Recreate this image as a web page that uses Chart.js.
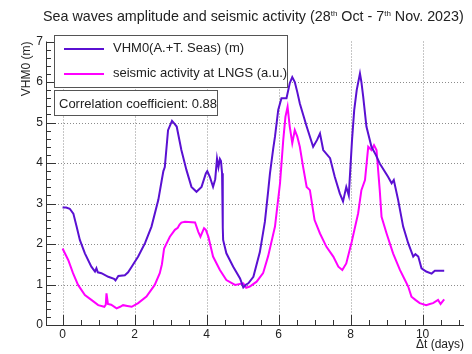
<!DOCTYPE html>
<html>
<head>
<meta charset="utf-8">
<script src="https://cdn.jsdelivr.net/npm/chart.js@4.4.1/dist/chart.umd.min.js"></script>
<style>
  html, body { margin: 0; padding: 0; background: #fff; }
  #wrap { position: relative; width: 472px; height: 354px; font-family: "Liberation Sans", Arial, sans-serif; color: #222; }
  #wrap canvas { position: absolute; left: 0; top: 0; }
  .title { position: absolute; left: 43px; top: 8px; font-size: 14.3px; white-space: nowrap; }
  .title sup { font-size: 8px; vertical-align: 5px; line-height: 0; }
  .box { position: absolute; background: #fff; border: 1px solid #555; box-sizing: border-box; }
  .row { position: absolute; left: 58px; font-size: 13px; white-space: nowrap; }
  .swatch { position: absolute; width: 40px; height: 2px; }
</style>
</head>
<body>
<div id="wrap">
  <canvas id="waveChart" width="472" height="354"></canvas>
  <div class="title">Sea waves amplitude and seismic activity (28<sup>th</sup> Oct - 7<sup>th</sup> Nov. 2023)</div>
  <div class="box" style="left:54px; top:35px; width:234px; height:53px;">
    <div class="swatch" style="left:9px; top:12px; background:#5a10d2;"></div>
    <div class="row" style="top:4px;">VHM0(A.+T. Seas) (m)</div>
    <div class="swatch" style="left:9px; top:37px; background:#ff00ff;"></div>
    <div class="row" style="top:29px;">seismic activity at LNGS (a.u.)</div>
  </div>
  <div class="box" style="left:54px; top:90px; width:164px; height:26px;">
    <div class="row" style="left:4px; top:5px;">Correlation coefficient: 0.88</div>
  </div>
</div>
<script>
document.addEventListener('DOMContentLoaded', () => {

    // VHM0 wave height (m) vs days
    const waveDays = [0.0, 0.1, 0.2, 0.3, 0.39, 0.48, 0.62, 0.8, 0.9, 0.94, 0.98, 1.08, 1.27, 1.43, 1.47, 1.55, 1.73, 1.82, 1.92,
        2.1, 2.29, 2.47, 2.66, 2.75, 2.8, 2.84, 2.93, 3.04, 3.1, 3.17, 3.3, 3.44, 3.58, 3.72, 3.86, 3.98, 4.02, 4.09, 4.18,
        4.24, 4.29, 4.33, 4.37, 4.4, 4.43, 4.45, 4.46, 4.55, 4.74, 4.93, 5.02, 5.1, 5.16, 5.3, 5.48, 5.62, 5.71, 5.76, 5.85,
        5.9, 5.99, 6.08, 6.22, 6.31, 6.38, 6.45, 6.52, 6.59, 6.78, 6.96, 7.07, 7.15, 7.24, 7.43, 7.56, 7.7, 7.79, 7.88, 7.95,
        8.04, 8.1, 8.17, 8.26, 8.3, 8.35, 8.44, 8.58, 8.7, 8.81, 9.04, 9.14, 9.2, 9.32, 9.46, 9.6, 9.74, 9.8, 9.88, 9.97,
        10.1, 10.25, 10.34, 10.6];
    const waveHeight = [2.9, 2.9, 2.87, 2.75, 2.43, 2.1, 1.77, 1.44, 1.32, 1.4, 1.3, 1.28, 1.19, 1.14, 1.1, 1.21, 1.23, 1.3, 1.44,
        1.69, 2.02, 2.43, 3.09, 3.55, 3.8, 3.9, 4.81, 5.04, 4.98, 4.9, 4.32, 3.83, 3.41, 3.29, 3.41, 3.74, 3.8, 3.66, 3.41,
        3.6, 4.11, 3.9, 4.1, 4.05, 3.75, 2.4, 2.1, 1.77, 1.44, 1.15, 0.93, 1.0, 1.03, 1.19, 1.8, 2.55, 3.3, 3.74, 4.35,
        4.65, 5.31, 5.6, 5.6, 5.97, 6.12, 6.0, 5.75, 5.47, 4.9, 4.4, 4.57, 4.73, 4.32, 4.12, 3.66, 3.25, 3.05, 3.41, 3.2,
        4.57, 5.3, 5.8, 6.21, 6.0, 5.64, 4.9, 4.4, 4.2, 3.99, 3.66, 3.5, 3.58, 3.09, 2.43, 2.02, 1.69, 1.75, 1.69, 1.4,
        1.32, 1.27, 1.34, 1.34];

    // Seismic activity at LNGS (a.u.) vs days
    const seisDays = [0.0, 0.16, 0.29, 0.43, 0.62, 0.8, 0.99, 1.16, 1.2, 1.22, 1.26, 1.35, 1.5, 1.6, 1.68, 1.8, 1.92, 2.1, 2.33,
        2.56, 2.7, 2.76, 2.82, 2.98, 3.12, 3.2, 3.25, 3.3, 3.4, 3.68, 3.77, 3.83, 3.93, 3.98, 4.05, 4.18, 4.37, 4.55, 4.79,
        5.02, 5.1, 5.2, 5.39, 5.57, 5.71, 5.9, 6.04, 6.13, 6.19, 6.25, 6.31, 6.38, 6.45, 6.52, 6.59, 6.68, 6.78, 6.87, 7.0,
        7.15, 7.33, 7.52, 7.66, 7.77, 7.88, 8.03, 8.21, 8.3, 8.4, 8.49, 8.58, 8.65, 8.72, 8.81, 8.86, 9.0, 9.18, 9.37, 9.51,
        9.6, 9.69, 9.8, 9.92, 10.1, 10.2, 10.29, 10.43, 10.5, 10.6];
    const seisLevel = [1.89, 1.6, 1.28, 0.99, 0.74, 0.62, 0.49, 0.45, 0.5, 0.78, 0.52, 0.5, 0.41, 0.45, 0.49, 0.47, 0.45, 0.54, 0.7,
        0.99, 1.28, 1.5, 1.89, 2.18, 2.35, 2.4, 2.48, 2.53, 2.55, 2.53, 2.3, 2.18, 2.39, 2.35, 2.18, 1.69, 1.36, 1.11, 0.99,
        1.03, 0.92, 0.95, 1.07, 1.28, 1.7, 2.43, 3.5, 4.57, 5.14, 5.39, 4.9, 4.49, 4.81, 4.65, 4.4, 3.91, 3.41, 3.33, 2.59,
        2.26, 1.93, 1.69, 1.44, 1.36, 1.52, 2.05, 2.76, 3.33, 3.58, 4.4, 4.32, 4.44, 4.32, 3.33, 2.67, 2.26, 1.77, 1.36, 1.11,
        0.95, 0.7, 0.62, 0.54, 0.49, 0.52, 0.54, 0.62, 0.52, 0.63];

    const xMajorTicks = [0, 2, 4, 6, 8, 10];
    const yMajorTicks = [0, 1, 2, 3, 4, 5, 6, 7];

    const toPoints = (xs, ys) => xs.map((x, i) => ({ x: x, y: ys[i] }));

    // dotted grid under the curves
    const dottedGrid = {
        id: 'dottedGrid',
        beforeDatasetsDraw(chart) {
            const { ctx, chartArea, scales: { x, y } } = chart;
            ctx.save();
            ctx.strokeStyle = '#8c8c8c';
            ctx.lineWidth = 1;
            ctx.setLineDash([1, 2]);
            ctx.beginPath();
            xMajorTicks.forEach(v => {
                const px = Math.round(x.getPixelForValue(v)) + 0.5;
                ctx.moveTo(px, chartArea.top);
                ctx.lineTo(px, chartArea.bottom);
            });
            yMajorTicks.slice(1, -1).forEach(v => {
                const py = Math.round(y.getPixelForValue(v)) + 0.5;
                ctx.moveTo(chartArea.left, py);
                ctx.lineTo(chartArea.right, py);
            });
            ctx.stroke();
            ctx.restore();
        }
    };

    // ROOT style axes: axis lines plus inward major/minor ticks
    const rootAxes = {
        id: 'rootAxes',
        afterDatasetsDraw(chart) {
            const { ctx, chartArea, scales: { x, y } } = chart;
            ctx.save();
            ctx.strokeStyle = '#333';
            ctx.lineWidth = 1;
            ctx.beginPath();
            ctx.moveTo(chartArea.left + 0.5, chartArea.top);
            ctx.lineTo(chartArea.left + 0.5, chartArea.bottom + 0.5);
            ctx.lineTo(chartArea.right, chartArea.bottom + 0.5);
            for (let i = 0; i <= 22; i++) {
                const v = i * 0.5;
                const px = Math.round(x.getPixelForValue(v)) + 0.5;
                if (px > chartArea.right) break;
                const len = (i % 4 === 0) ? 10 : 5;
                ctx.moveTo(px, chartArea.bottom);
                ctx.lineTo(px, chartArea.bottom - len);
            }
            for (let i = 0; i <= 35; i++) {
                const v = i * 0.2;
                const py = Math.round(y.getPixelForValue(v)) + 0.5;
                const len = (i % 5 === 0) ? 10 : 5;
                ctx.moveTo(chartArea.left, py);
                ctx.lineTo(chartArea.left + len, py);
            }
            ctx.stroke();
            ctx.restore();
        }
    };

    const tickFont = { family: '"Liberation Sans", Arial, sans-serif', size: 12 };

    new Chart(document.getElementById('waveChart'), {
        type: 'line',
        data: {
            datasets: [
                {
                    label: 'VHM0(A.+T. Seas) (m)',
                    data: toPoints(waveDays, waveHeight),
                    borderColor: '#5a10d2',
                    borderWidth: 2,
                    pointRadius: 0,
                    tension: 0
                },
                {
                    label: 'seismic activity at LNGS (a.u.)',
                    data: toPoints(seisDays, seisLevel),
                    borderColor: '#ff00ff',
                    borderWidth: 2,
                    pointRadius: 0,
                    tension: 0
                }
            ]
        },
        options: {
            responsive: false,
            animation: false,
            layout: { padding: { top: 41.5, right: 8, bottom: 0, left: 0 } },
            plugins: {
                legend: { display: false },
                tooltip: { enabled: false }
            },
            scales: {
                x: {
                    type: 'linear',
                    min: -0.46,
                    max: 11.15,
                    afterBuildTicks: scale => { scale.ticks = xMajorTicks.map(v => ({ value: v })); },
                    afterFit: scale => { scale.height = 29; },
                    grid: { display: false, drawTicks: false },
                    border: { display: false },
                    ticks: { color: '#222', font: tickFont, padding: 2, maxRotation: 0 },
                    title: {
                        display: true, text: 'Δt (days)', align: 'end', color: '#222',
                        font: tickFont, padding: { top: 0, bottom: 2 }
                    }
                },
                y: {
                    type: 'linear',
                    min: 0,
                    max: 7,
                    afterBuildTicks: scale => { scale.ticks = yMajorTicks.map(v => ({ value: v })); },
                    afterFit: scale => { scale.width = 46; },
                    grid: { display: false, drawTicks: false },
                    border: { display: false },
                    ticks: { color: '#222', font: tickFont, padding: 3 },
                    title: {
                        display: true, text: 'VHM0 (m)', align: 'end', color: '#222',
                        font: tickFont, padding: { top: 19, bottom: 0 }
                    }
                }
            }
        },
        plugins: [dottedGrid, rootAxes]
    });
});
</script>
</body>
</html>
